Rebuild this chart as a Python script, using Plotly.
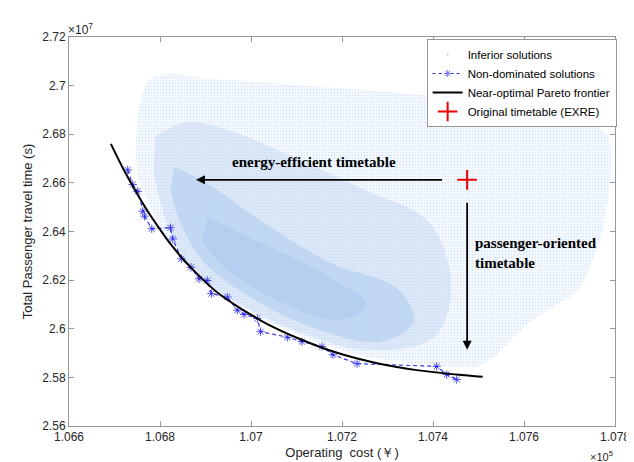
import plotly.graph_objects as go

# ---------------- data (x in 1e5 yuan, y in 1e7 s) ----------------
nd_x = [1.06729, 1.06740, 1.06751, 1.06762, 1.06766, 1.06782, 1.06823, 1.06828,
        1.06847, 1.06868, 1.06886, 1.06904, 1.06913, 1.06948, 1.06970, 1.06985,
        1.07014, 1.07021, 1.07080, 1.07112, 1.07156, 1.07180, 1.07233, 1.07408,
        1.07430, 1.07452]
nd_y = [2.66532, 2.65933, 2.65648, 2.64834, 2.64630, 2.64113, 2.64154, 2.63694,
        2.62880, 2.62525, 2.62053, 2.61984, 2.61442, 2.61304, 2.60762, 2.60587,
        2.60424, 2.59879, 2.59651, 2.59471, 2.59268, 2.58930, 2.58564, 2.58454,
        2.58116, 2.57912]

pf_x = [1.06692, 1.06718, 1.06747, 1.06773, 1.06795, 1.06823, 1.06852, 1.06883,
        1.06926, 1.06970, 1.07036, 1.07102, 1.07189, 1.07277, 1.07364, 1.07452, 1.07509]
pf_y = [2.67602, 2.66625, 2.65648, 2.64833, 2.64222, 2.63489, 2.62838, 2.62227,
        2.61494, 2.60924, 2.60191, 2.59621, 2.59010, 2.58583, 2.58298, 2.58115, 2.58022]

orig_x = [1.07475]
orig_y = [2.66125]

# inferior solutions cloud, read as density regions (outline vertices)
cloud_outer_x = [1.06747, 1.06751, 1.06773, 1.06817, 1.06883, 1.07029, 1.07174, 1.07321,
                 1.07452, 1.07605, 1.07726, 1.07787, 1.07789, 1.07769, 1.07721, 1.07612,
                 1.07540, 1.07496, 1.07342, 1.07233, 1.07123, 1.07036, 1.06970, 1.06904,
                 1.06850, 1.06806, 1.06773, 1.06751]
cloud_outer_y = [2.67073, 2.68702, 2.70208, 2.70493, 2.70330, 2.70127, 2.69923, 2.69720,
                 2.69435, 2.69109, 2.68702, 2.67887, 2.65851, 2.63815, 2.61657, 2.60273,
                 2.58929, 2.58440, 2.58603, 2.58929, 2.59621, 2.60313, 2.61046, 2.61861,
                 2.62797, 2.64019, 2.65240, 2.66258]
cloud_mid_x = [1.06790, 1.06860, 1.06960, 1.07100, 1.07248, 1.07393, 1.07440, 1.07400,
               1.07248, 1.07123, 1.07029, 1.06926, 1.06850, 1.06810, 1.06786]
cloud_mid_y = [2.67900, 2.68500, 2.68100, 2.67000, 2.65729, 2.64345, 2.61657, 2.59621,
               2.59133, 2.59743, 2.60476, 2.61576, 2.63001, 2.64630, 2.66462]
cloud_core_x = [1.06832, 1.06904, 1.07029, 1.07174, 1.07321, 1.07358, 1.07283, 1.07139,
                1.06992, 1.06898, 1.06845, 1.06823]
cloud_core_y = [2.66666, 2.65973, 2.64345, 2.62716, 2.61657, 2.60273, 2.59458, 2.60028,
                2.61372, 2.62716, 2.64345, 2.65729]
cloud_dense_x = [1.06904, 1.07014, 1.07167, 1.07255, 1.07189, 1.07058, 1.06937, 1.06893]
cloud_dense_y = [2.64630, 2.63612, 2.62187, 2.60965, 2.60354, 2.61169, 2.62594, 2.63612]

x_ticks = [1.066, 1.068, 1.070, 1.072, 1.074, 1.076, 1.078]
x_tick_text = ["1.066", "1.068", "1.07", "1.072", "1.074", "1.076", "1.078"]
y_ticks = [2.56, 2.58, 2.60, 2.62, 2.64, 2.66, 2.68, 2.70, 2.72]
y_tick_text = ["2.56", "2.58", "2.6", "2.62", "2.64", "2.66", "2.68", "2.7", "2.72"]

# ---------------- figure ----------------
fig = go.Figure()

CLOUD = "rgb(172,202,238)"
ND_BLUE = "rgb(40,40,235)"
fig.add_trace(go.Scatter(x=cloud_outer_x, y=cloud_outer_y, mode="lines", fill="toself",
                         line=dict(width=0, shape="spline", smoothing=0.6),
                         fillcolor="rgba(255,255,255,0)",
                         fillpattern=dict(shape=".", fgcolor=CLOUD, bgcolor="rgba(236,243,251,0.5)",
                                          size=3, solidity=0.22),
                         showlegend=False, hoverinfo="skip"))
fig.add_trace(go.Scatter(x=cloud_mid_x, y=cloud_mid_y, mode="lines", fill="toself",
                         line=dict(width=0, shape="spline"), fillcolor="rgba(195,216,242,0.5)",
                         showlegend=False, hoverinfo="skip"))
fig.add_trace(go.Scatter(x=cloud_core_x, y=cloud_core_y, mode="lines", fill="toself",
                         line=dict(width=0, shape="spline"), fillcolor="rgba(180,207,240,0.65)",
                         showlegend=False, hoverinfo="skip"))
fig.add_trace(go.Scatter(x=cloud_dense_x, y=cloud_dense_y, mode="lines", fill="toself",
                         line=dict(width=0, shape="spline"), fillcolor="rgba(172,202,238,0.6)",
                         showlegend=False, hoverinfo="skip"))

# legend entry for the cloud
fig.add_trace(go.Scatter(x=[None], y=[None], mode="markers", name="Inferior solutions",
                         marker=dict(size=2, color=CLOUD)))

fig.add_trace(go.Scatter(x=nd_x, y=nd_y, mode="lines+markers", name="Non-dominated solutions",
                         legendgroup="nd", showlegend=False,
                         line=dict(color=ND_BLUE, width=1.1, dash="4px,3px"),
                         marker=dict(symbol="asterisk-open", size=7, color=ND_BLUE,
                                     line=dict(color=ND_BLUE, width=0.8))))
fig.add_trace(go.Scatter(x=[None], y=[None], mode="lines+markers", name="Non-dominated solutions",
                         legendgroup="nd",
                         line=dict(color=ND_BLUE, width=1.1, dash="3px,3px"),
                         marker=dict(symbol="asterisk-open", size=6, color="rgb(120,120,240)",
                                     line=dict(color="rgb(120,120,240)", width=1))))

fig.add_trace(go.Scatter(x=pf_x, y=pf_y, mode="lines", name="Near-optimal Pareto frontier",
                         line=dict(color="black", width=2, shape="spline", smoothing=1.0)))

fig.add_trace(go.Scatter(x=orig_x, y=orig_y, mode="markers", name="Original timetable (EXRE)",
                         marker=dict(symbol="cross-thin-open", size=14, color="rgb(235,0,0)",
                                     line=dict(color="rgb(235,0,0)", width=2))))

# arrows
fig.add_annotation(x=1.06879, y=orig_y[0], ax=1.07423, ay=orig_y[0], xref="x", yref="y",
                   axref="x", ayref="y", showarrow=True, arrowhead=2, arrowsize=1,
                   arrowwidth=1.8, arrowcolor="black", text="")
fig.add_annotation(x=orig_x[0], y=2.59133, ax=orig_x[0], ay=2.65241, xref="x", yref="y",
                   axref="x", ayref="y", showarrow=True, arrowhead=2, arrowsize=1,
                   arrowwidth=1.8, arrowcolor="black", text="")
fig.add_annotation(x=1.07138, y=2.6687, xref="x", yref="y", showarrow=False,
                   text="<b>energy-efficient timetable</b>",
                   font=dict(family="Liberation Serif, Times New Roman, serif", size=15, color="black"))
fig.add_annotation(x=1.07488, y=2.6311, xref="x", yref="y", showarrow=False, xanchor="left",
                   align="left", text="<b>passenger-oriented<br>timetable</b>",
                   font=dict(family="Liberation Serif, Times New Roman, serif", size=15, color="black"))

# exponent labels
fig.add_annotation(x=0, y=1, xref="paper", yref="paper", xanchor="left", yanchor="bottom",
                   showarrow=False, text="×10<sup>7</sup>", yshift=-2, xshift=-3,
                   font=dict(size=12, color="rgb(38,38,38)"))
fig.add_annotation(x=1, y=0, xref="paper", yref="paper", xanchor="right", yanchor="top",
                   showarrow=False, text="×10<sup>5</sup>", yshift=-21,
                   font=dict(size=11, color="rgb(38,38,38)"))

axis_common = dict(showline=True, mirror="ticks", linecolor="rgb(150,150,150)", linewidth=1,
                   ticks="inside", ticklen=5, tickcolor="rgb(150,150,150)", showgrid=False,
                   zeroline=False, tickfont=dict(size=12, color="rgb(38,38,38)"))

fig.update_xaxes(range=[1.066, 1.078], tickvals=x_ticks, ticktext=x_tick_text,
                 title=dict(text="Operating  cost (￥)", font=dict(size=13, color="rgb(38,38,38)"),
                            standoff=4),
                 **axis_common)
fig.update_yaxes(range=[2.56, 2.72], tickvals=y_ticks, ticktext=y_tick_text,
                 title=dict(text="Total Passenger travel time (s)",
                            font=dict(size=13, color="rgb(38,38,38)"), standoff=6),
                 **axis_common)

fig.update_layout(
    width=634, height=462,
    margin=dict(l=61, r=25, t=29, b=40),
    paper_bgcolor="white", plot_bgcolor="white",
    font=dict(family="Liberation Sans, Arial, sans-serif", color="rgb(38,38,38)"),
    legend=dict(x=0.655, y=0.995, xanchor="left", yanchor="top",
                bgcolor="white", bordercolor="rgb(150,150,150)", borderwidth=1,
                font=dict(size=11.5, color="black"), itemwidth=30, tracegroupgap=0),
)

fig.write_html("out.html")
